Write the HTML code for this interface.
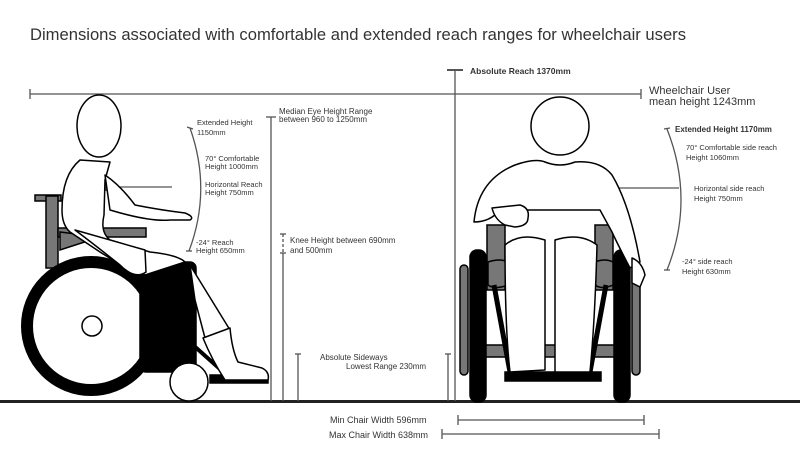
<!DOCTYPE html>
<html><head><meta charset="utf-8"><style>
html,body{margin:0;padding:0;background:#fff;width:800px;height:449px;overflow:hidden}
text{font-family:"Liberation Sans",sans-serif;fill:#333}
</style></head><body>
<svg width="800" height="449" viewBox="0 0 800 449" xmlns="http://www.w3.org/2000/svg">
<text x="30" y="40" font-size="17" fill="#333" textLength="656" lengthAdjust="spacingAndGlyphs">Dimensions associated with comfortable and extended reach ranges  for wheelchair users</text>

<!-- ground -->
<rect x="0" y="400" width="800" height="3" fill="#222"/>

<g stroke="#555" stroke-width="1.3" fill="none">
<line x1="30" y1="94" x2="641" y2="94"/>
<line x1="30" y1="89" x2="30" y2="99"/>
<line x1="641" y1="89" x2="641" y2="99"/>
<line x1="455" y1="70" x2="455" y2="401"/>
<line x1="447" y1="70" x2="463" y2="70" stroke-width="2"/>
<line x1="271" y1="117" x2="271" y2="401"/>
<line x1="266" y1="117" x2="276" y2="117"/>
<line x1="283" y1="234" x2="283" y2="253" stroke-dasharray="3,2"/>
<line x1="280" y1="234" x2="286" y2="234"/>
<line x1="283" y1="253" x2="283" y2="401"/>
<line x1="280" y1="253" x2="286" y2="253"/>
<line x1="298" y1="354" x2="298" y2="401"/>
<line x1="295" y1="354" x2="301" y2="354"/>
<line x1="448" y1="354" x2="448" y2="401"/>
<line x1="445" y1="354" x2="451" y2="354"/>
<line x1="458" y1="420" x2="644" y2="420"/>
<line x1="458" y1="415" x2="458" y2="425"/>
<line x1="644" y1="415" x2="644" y2="425"/>
<line x1="442" y1="434" x2="659" y2="434"/>
<line x1="442" y1="429" x2="442" y2="439"/>
<line x1="659" y1="429" x2="659" y2="439"/>
<path d="M190,128 Q212,190 189,251"/>
<line x1="187" y1="127" x2="193" y2="129"/>
<line x1="186" y1="251" x2="192" y2="251"/>
<line x1="106" y1="187" x2="172" y2="187"/>
<line x1="106" y1="183" x2="106" y2="191"/>
<path d="M667,129 Q695,200 667,270"/>
<line x1="664" y1="129" x2="670" y2="128"/>
<line x1="664" y1="270" x2="670" y2="270"/>
<line x1="590" y1="188" x2="679" y2="188"/>
<line x1="590" y1="184" x2="590" y2="192"/>
</g>

<g font-size="8">
<text x="470" y="74" font-size="8.5" font-weight="bold">Absolute Reach 1370mm</text>
<text x="649" y="94" font-size="11">Wheelchair User</text>
<text x="649" y="105" font-size="11">mean height 1243mm</text>
<text x="279" y="114">Median Eye Height Range</text>
<text x="279" y="122">between 960 to 1250mm</text>
<text x="290" y="243">Knee Height between 690mm</text>
<text x="290" y="253">and 500mm</text>
<text x="320" y="360">Absolute Sideways</text>
<text x="346" y="369">Lowest Range  230mm</text>
<text x="330" y="423" font-size="9">Min Chair Width 596mm</text>
<text x="329" y="438" font-size="9">Max Chair Width 638mm</text>
<text x="197" y="125" font-size="7.5">Extended Height</text>
<text x="197" y="135" font-size="7.5">1150mm</text>
<text x="205" y="161" font-size="7.5">70° Comfortable</text>
<text x="205" y="169" font-size="7.5">Height 1000mm</text>
<text x="205" y="187" font-size="7.5">Horizontal Reach</text>
<text x="205" y="195" font-size="7.5">Height 750mm</text>
<text x="196" y="245" font-size="7.5">-24°  Reach</text>
<text x="196" y="253" font-size="7.5">Height 650mm</text>
<text x="675" y="132" font-weight="bold">Extended Height 1170mm</text>
<text x="686" y="150" font-size="7.5">70° Comfortable side reach</text>
<text x="686" y="160" font-size="7.5">Height 1060mm</text>
<text x="694" y="191" font-size="7.5">Horizontal side reach</text>
<text x="694" y="201" font-size="7.5">Height 750mm</text>
<text x="682" y="264" font-size="7.5">-24° side reach</text>
<text x="682" y="274" font-size="7.5">Height 630mm</text>
</g>

<!-- LEFT FIGURE -->
<g stroke="#000" stroke-width="1.5">
<rect x="35" y="195" width="26" height="6" fill="#777"/>
<rect x="46" y="196" width="12" height="72" fill="#777"/>
<rect x="58" y="228" width="88" height="9" fill="#777"/>
<path d="M60,232 L100,237 L60,250 Z" fill="#777"/>
<rect x="140" y="262" width="56" height="110" rx="6" fill="#000"/>
<line x1="193" y1="345" x2="230" y2="378" stroke-width="4"/>
<rect x="210" y="375" width="58" height="8" fill="#000"/>
</g>
<circle cx="91" cy="326" r="64" fill="none" stroke="#000" stroke-width="12"/>
<circle cx="92" cy="326" r="10" fill="#fff" stroke="#000" stroke-width="1.5"/>
<circle cx="189" cy="382" r="19" fill="#fff" stroke="#000" stroke-width="1.5"/>
<ellipse cx="99" cy="126" rx="22" ry="31" fill="#fff" stroke="#000" stroke-width="1.5"/>
<g fill="#fff" stroke="#000" stroke-width="1.5" stroke-linejoin="round">
<path d="M80,160 Q62,175 62,210 Q62,225 70,232 L100,252 Q125,268 145,275 L185,262 Q178,255 150,252 L110,240 Q100,232 104,215 L105,180 L110,162 Z"/>
<path d="M105,175 Q120,185 135,205 Q160,210 185,213 Q195,217 190,220 L170,220 Q150,222 110,210 Z"/>
<path d="M75,230 Q95,245 120,265 Q135,280 146,272 L145,250 Z"/>
<path d="M190,265 L230,330 L205,338 L195,300 Z"/>
<path d="M203,338 L230,328 Q232,350 238,362 L262,368 Q270,372 268,380 L225,380 Q212,360 203,338 Z"/>
</g>

<!-- RIGHT FIGURE -->
<g stroke="#000" stroke-width="1.5">
<rect x="460" y="265" width="8" height="110" rx="4" fill="#777"/>
<rect x="632" y="265" width="8" height="110" rx="4" fill="#777"/>
<rect x="470" y="250" width="16" height="152" rx="7" fill="#000"/>
<rect x="614" y="250" width="16" height="152" rx="7" fill="#000"/>
<rect x="487" y="225" width="18" height="65" fill="#777"/>
<rect x="595" y="225" width="18" height="65" fill="#777"/>
<path d="M488,262 Q500,258 508,262 L508,285 Q495,290 488,285 Z" fill="#777"/>
<path d="M595,262 Q605,258 613,262 L613,285 Q602,290 595,285 Z" fill="#777"/>
<rect x="486" y="345" width="128" height="12" fill="#777"/>
<line x1="494" y1="285" x2="510" y2="372" stroke-width="5"/>
<line x1="606" y1="285" x2="590" y2="372" stroke-width="5"/>
<rect x="505" y="372" width="96" height="9" fill="#000"/>
</g>
<g fill="#fff" stroke="#000" stroke-width="1.5" stroke-linejoin="round">
<path d="M474,222 Q478,180 515,165 Q535,158 545,162 Q560,168 575,162 Q600,160 612,175 Q630,205 640,262 L630,268 Q618,245 612,232 L600,210 L500,210 Q490,222 474,222 Z"/>
<path d="M492,208 L520,205 Q530,208 528,218 Q528,226 515,227 L505,225 Q495,220 492,208 Z"/>
<path d="M505,245 Q520,232 545,240 L545,310 L545,370 L510,372 Q505,330 505,245 Z"/>
<path d="M555,240 Q580,232 597,245 Q595,320 590,372 L555,372 L555,310 Z"/>
<path d="M632,258 Q642,262 645,275 L640,287 L632,283 Z"/>
</g>
<circle cx="560" cy="126" r="29" fill="#fff" stroke="#000" stroke-width="1.5"/>
</svg>
</body></html>
